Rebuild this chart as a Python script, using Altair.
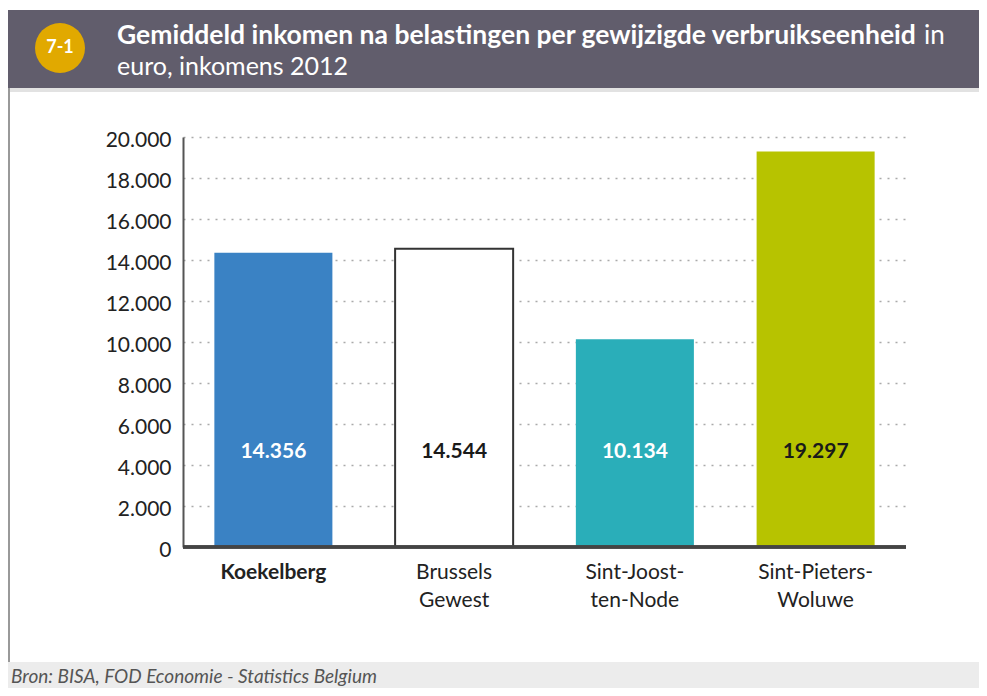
import altair as alt
import pandas as pd

categories = ["Koekelberg", "Brussels Gewest", "Sint-Joost-ten-Node", "Sint-Pieters-Woluwe"]
values = [14356, 14544, 10134, 19297]
bar_colors = ["#3a82c4", "#ffffff", "#2aaeb9", "#b7c300"]
y_ticks = [0, 2000, 4000, 6000, 8000, 10000, 12000, 14000, 16000, 18000, 20000]

title_bold = "Gemiddeld inkomen na belastingen per gewijzigde verbruikseenheid"
title_rest = "in"
title_line2 = "euro, inkomens 2012"
badge = "7-1"
source = "Bron: BISA, FOD Economie - Statistics Belgium"

df = pd.DataFrame({"cat": categories, "value": values})

W, H = 723, 410
FONT = "Lato"

xenc = alt.X(
    "cat:N",
    sort=categories,
    scale=alt.Scale(paddingInner=0.347, paddingOuter=0.1735),
    axis=alt.Axis(
        title=None,
        labelAngle=0,
        ticks=False,
        domain=False,
        labelPadding=14,
        labelFontSize=21,
        labelFont=FONT,
        labelColor="#222",
        labelLineHeight=28,
        labelFontWeight=alt.expr("datum.value == 'Koekelberg' ? 'bold' : 'normal'"),
        labelExpr="datum.value == 'Brussels Gewest' ? ['Brussels','Gewest'] : datum.value == 'Sint-Joost-ten-Node' ? ['Sint-Joost-','ten-Node'] : datum.value == 'Sint-Pieters-Woluwe' ? ['Sint-Pieters-','Woluwe'] : datum.value",
    ),
)

yscale = alt.Scale(domain=[0, 20000], nice=False)

bars = alt.Chart(df).mark_bar(strokeWidth=2).encode(
    x=xenc,
    y=alt.Y(
        "value:Q",
        scale=yscale,
        axis=alt.Axis(
            title=None,
            values=y_ticks,
            ticks=False,
            labelPadding=12,
            labelFontSize=21,
            labelFont=FONT,
            labelColor="#222",
            labelOffset=3,
            labelExpr="replace(format(datum.value, ','), ',', '.')",
            domainColor="#555",
            domainWidth=2,
            grid=True,
            gridColor="#aaa",
            gridDash=[2, 6],
            gridWidth=1.5,
        ),
    ),
    color=alt.Color("cat:N", scale=alt.Scale(domain=categories, range=bar_colors), legend=None),
    stroke=alt.condition("datum.cat == 'Brussels Gewest'", alt.value("#333"), alt.value(None)),
)

labels = alt.Chart(df).transform_calculate(
    lbl="replace(format(datum.value, ','), ',', '.')"
).mark_text(fontSize=21, fontWeight="bold", font=FONT).encode(
    x=alt.X("cat:N", sort=categories),
    y=alt.datum(4650),
    text="lbl:N",
    color=alt.condition(
        "datum.cat == 'Koekelberg' || datum.cat == 'Sint-Joost-ten-Node'",
        alt.value("white"),
        alt.value("#1a1a1a"),
    ),
)

xaxis_line = alt.Chart(df).mark_rule(color="#444", strokeWidth=3).encode(
    x=alt.value(0), x2=alt.value(W), y=alt.value(H)
)

# decoration: header, badge, title, footer
dec = pd.DataFrame({"d": [0]})
header = alt.Chart(dec).mark_rect(color="#615d6c").encode(
    x=alt.value(-176), x2=alt.value(800), y=alt.value(-127), y2=alt.value(-49)
)
sep = alt.Chart(dec).mark_rect(color="#e2e2e2").encode(
    x=alt.value(-176), x2=alt.value(800), y=alt.value(-49), y2=alt.value(-45)
)
leftline = alt.Chart(dec).mark_rule(color="#999", strokeWidth=2).encode(
    x=alt.value(-174), y=alt.value(-49), y2=alt.value(525)
)
footer = alt.Chart(dec).mark_rect(color="#ececec").encode(
    x=alt.value(-176), x2=alt.value(800), y=alt.value(525), y2=alt.value(552)
)
circle = alt.Chart(dec).mark_point(filled=True, shape="circle", size=2500, color="#e1a900", opacity=1).encode(
    x=alt.value(-123), y=alt.value(-89)
)
badge_txt = alt.Chart(dec).mark_text(text=badge, color="white", fontWeight="bold", fontSize=18, font=FONT).encode(
    x=alt.value(-123), y=alt.value(-89)
)
t1 = alt.Chart(dec).mark_text(text=title_bold, color="white", fontWeight="bold", fontSize=26.5, font=FONT, align="left", baseline="middle").encode(
    x=alt.value(-66), y=alt.value(-101)
)
t1b = alt.Chart(dec).mark_text(text=title_rest, color="white", fontSize=26, font=FONT, align="left", baseline="middle").encode(
    x=alt.value(741), y=alt.value(-101)
)
t2 = alt.Chart(dec).mark_text(text=title_line2, color="white", fontSize=25, font=FONT, align="left", baseline="middle").encode(
    x=alt.value(-66), y=alt.value(-70)
)
src = alt.Chart(dec).mark_text(text=source, color="#555", fontStyle="italic", fontSize=19, font=FONT, align="left", baseline="middle").encode(
    x=alt.value(-172), y=alt.value(540)
)

chart = alt.layer(
    header, sep, leftline, footer, circle, badge_txt, t1, t1b, t2, src,
    bars, labels, xaxis_line
).properties(
    width=W, height=H,
    autosize=alt.AutoSizeParams(type="none"),
    padding={"left": 175, "top": 129, "right": 73, "bottom": 141},
    background="white",
).configure_view(stroke=None)

chart.save("out.html", embed_options={"renderer": "svg", "actions": False})
